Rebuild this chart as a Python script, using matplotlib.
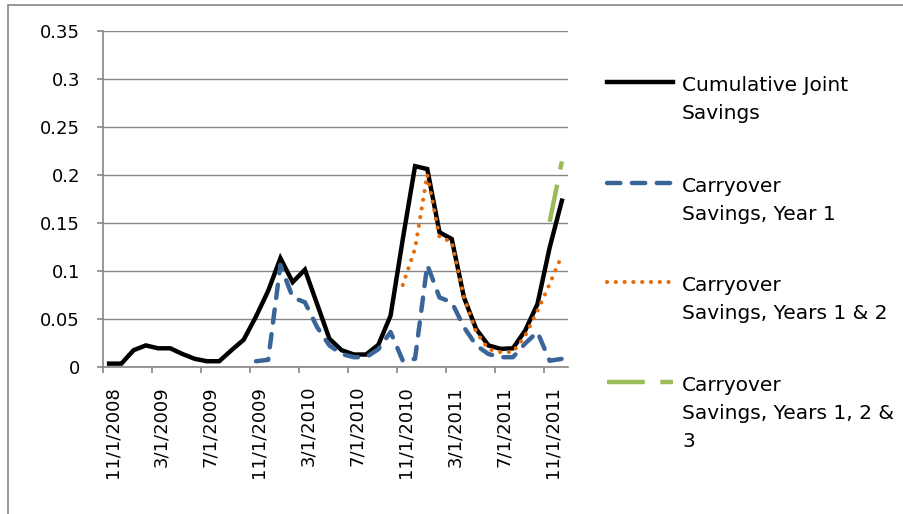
import numpy as np
import pandas as pd
import matplotlib
matplotlib.use('Agg')
import matplotlib.pyplot as plt
from matplotlib.lines import Line2D
from matplotlib.patches import Rectangle
from matplotlib.transforms import ScaledTranslation

plt.rcParams['font.family'] = ['DejaVu Sans']

# monthly categories, 11/1/2008 .. 12/1/2011
months = pd.date_range('2008-11-01', periods=38, freq='MS')
month_labels = [f"{d.month}/{d.day}/{d.year}" for d in months]

nan = np.nan
cumulative = [0.003, 0.003, 0.017, 0.022, 0.019, 0.019, 0.013, 0.008, 0.0055, 0.0055,
              0.017, 0.028, 0.052, 0.079, 0.113, 0.088, 0.101, 0.065, 0.029, 0.017,
              0.0125, 0.0125, 0.0226, 0.053, 0.133, 0.209, 0.206, 0.140, 0.133, 0.072,
              0.039, 0.022, 0.0184, 0.019, 0.0375, 0.065, 0.124, 0.173]
carry_y1 = [nan] * 12 + [0.0055, 0.007, 0.106, 0.072, 0.067, 0.041, 0.022, 0.013, 0.0097, 0.0097,
                         0.018, 0.036, 0.006, 0.008, 0.106, 0.072, 0.067, 0.041, 0.022, 0.013,
                         0.0097, 0.0097, 0.024, 0.036, 0.006, 0.008]
carry_y12 = [nan] * 24 + [0.085, 0.123, 0.200, 0.135, 0.130, 0.072, 0.036, 0.018, 0.015, 0.015,
                          0.032, 0.058, 0.086, 0.116]
carry_y123 = [nan] * 36 + [0.151, 0.214]

yticks = [0, 0.05, 0.1, 0.15, 0.2, 0.25, 0.3, 0.35]
ytick_labels = ['0', '0.05', '0.1', '0.15', '0.2', '0.25', '0.3', '0.35']

grey = '#868686'
styles = {
    'cum': dict(color='black', lw=3.2, solid_joinstyle='miter'),
    'y1': dict(color='#3A6598', lw=3.2, dashes=(3.0, 2.6), dash_capstyle='round'),
    'y12': dict(color='#E46C0A', lw=3.0, dashes=(0.01, 2.1), dash_capstyle='round'),
    'y123': dict(color='#9BBB59', lw=3.2, dashes=(8.5, 3.5), dash_capstyle='butt'),
}

W, H = 904, 514
fig = plt.figure(figsize=(W / 100, H / 100), dpi=100)

# outer chart border
fig.add_artist(Rectangle((8 / W, -0.1), 1.2, 1 - 5 / H + 0.1, transform=fig.transFigure,
                         fill=False, edgecolor=grey, lw=1.2))

ax = fig.add_axes([103 / W, 1 - 366.5 / H, (568 - 103) / W, (366.5 - 31) / H])

x = np.arange(len(months))
ax.plot(x, cumulative, **styles['cum'])
ax.plot(x, carry_y1, **styles['y1'])
ax.plot(x, carry_y12, **styles['y12'])
ax.plot(x, carry_y123, **styles['y123'])

ax.set_xlim(-0.5, len(months) - 0.5)
ax.set_ylim(0, 0.35)
ax.set_yticks(yticks)
ax.set_yticklabels(ytick_labels)
ax.yaxis.grid(True, color=grey, lw=1.0)
ax.set_axisbelow(True)

for side in ['top', 'right']:
    ax.spines[side].set_visible(False)
for side in ['left', 'bottom']:
    ax.spines[side].set_color(grey)
    ax.spines[side].set_linewidth(1.2)

# tick marks between categories, labels every fourth month
ax.set_xticks(np.arange(-0.5, len(months) - 1, 4))
ax.set_xticklabels([])
ax.set_xticks(x[::4], minor=True)
ax.set_xticklabels(month_labels[::4], minor=True, rotation=90, va='top')
ax.tick_params(axis='x', which='major', length=4.5, color=grey, width=1.2)
ax.tick_params(axis='x', which='minor', length=0, pad=14, labelsize=13)
ax.tick_params(axis='y', length=4.5, color=grey, width=1.2, pad=12, labelsize=13)
shift = ScaledTranslation(3 / 100, 0, fig.dpi_scale_trans)
for lab in ax.get_xticklabels(minor=True):
    lab.set_transform(lab.get_transform() + shift)

# legend, drawn beside the plot area
legend_items = [
    ('cum', ['Cumulative Joint', 'Savings'], 81.7),
    ('y1', ['Carryover', 'Savings, Year 1'], 183.3),
    ('y12', ['Carryover', 'Savings, Years 1 & 2'], 281.7),
    ('y123', ['Carryover', 'Savings, Years 1, 2 &', '3'], 381.7),
]
for key, lines, hy in legend_items:
    fig.add_artist(Line2D([607 / W, 673 / W], [1 - hy / H] * 2, transform=fig.transFigure,
                          **styles[key]))
    for k, line in enumerate(lines):
        fig.text(682 / W, 1 - (hy + 9 + 28 * k) / H, line, fontsize=14.5,
                 va='baseline', ha='left')

fig.savefig('out.png', dpi=100)
